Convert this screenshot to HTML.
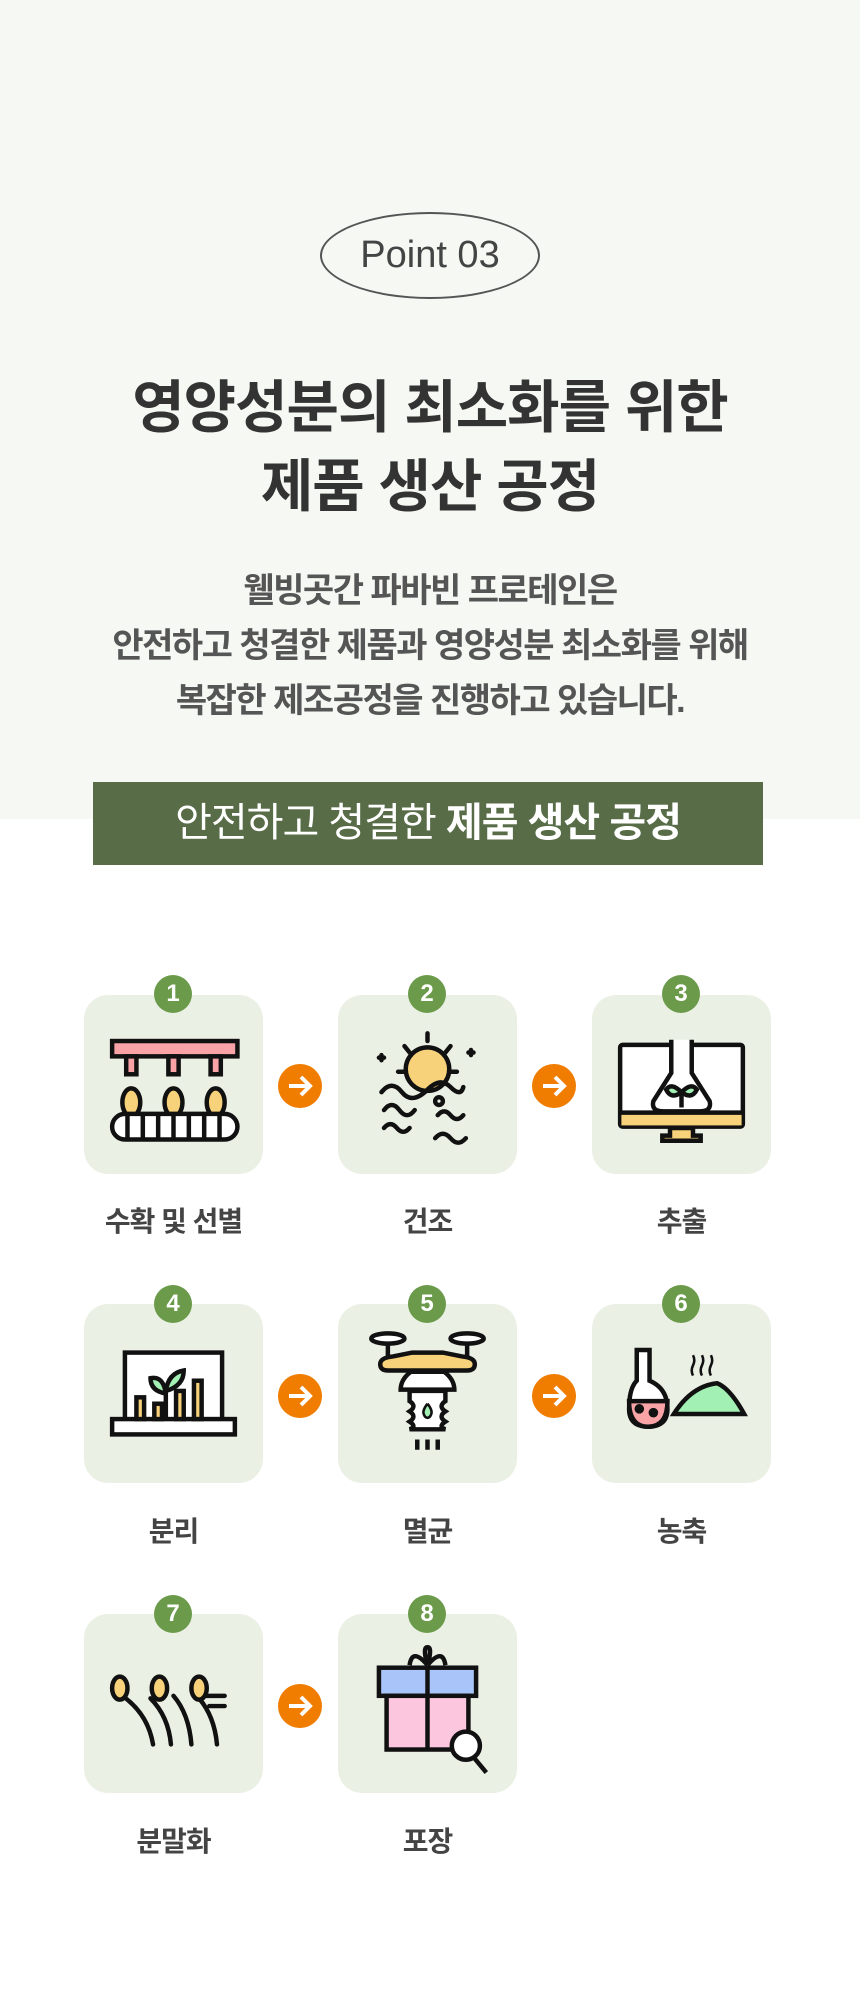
<!DOCTYPE html>
<html><head><meta charset="utf-8">
<style>
*{margin:0;padding:0;box-sizing:border-box}
body{width:860px;height:2002px;background:#fff;position:relative;font-family:"Liberation Sans","Noto Sans CJK KR",sans-serif;overflow:hidden}
.top{position:absolute;left:0;top:0;width:860px;height:819px;background:#f6f8f3}
.oval{position:absolute;left:320px;top:212px;width:220px;height:87px;border:2px solid #555;border-radius:50%;text-align:center;line-height:83px;font-size:38px;color:#444}
.t{position:absolute;left:0;width:860px;text-align:center;color:#333;font-weight:bold;font-size:57px;letter-spacing:-1px}
.p{position:absolute;left:0;width:860px;text-align:center;color:#555;font-size:34px;font-weight:bold;letter-spacing:-1.5px}
.bar{position:absolute;left:93px;top:782px;width:670px;height:83px;background:#586c48;color:#fff;text-align:center;line-height:83px;font-size:40px;letter-spacing:-1px}
.box{position:absolute;width:179px;height:179px;background:#ebf0e5;border-radius:24px}
.box svg{position:absolute;left:0;top:0;width:179px;height:179px}
.num{position:absolute;width:38px;height:38px;border-radius:50%;background:#6a9a4a;color:#fff;font-weight:bold;font-size:24px;text-align:center;line-height:38px}
.arr{position:absolute;width:44px;height:44px;border-radius:50%;background:#f07c00}
.arr svg{width:44px;height:44px}
.lb{position:absolute;width:179px;text-align:center;font-size:28px;font-weight:bold;color:#444;letter-spacing:-1px}
</style></head><body>
<div class="top"></div>
<div class="oval">Point 03</div>
<div class="t" style="top:362px">영양성분의 최소화를 위한</div>
<div class="t" style="top:441px">제품 생산 공정</div>
<div class="p" style="top:563px">웰빙곳간 파바빈 프로테인은</div>
<div class="p" style="top:618px">안전하고 청결한 제품과 영양성분 최소화를 위해</div>
<div class="p" style="top:673px">복잡한 제조공정을 진행하고 있습니다.</div>
<div class="bar">안전하고 청결한 <b>제품 생산 공정</b></div>

<!-- row1 -->
<div class="box" style="left:84px;top:995px"><svg viewBox="0 0 140 140" fill="none" stroke="#111" stroke-width="3.5">
<rect x="22" y="36" width="98" height="12" fill="#f9a3a6"/>
<rect x="33" y="48" width="8" height="14" fill="#f9a3a6"/><rect x="66" y="48" width="8" height="14" fill="#f9a3a6"/><rect x="99" y="48" width="8" height="14" fill="#f9a3a6"/>
<ellipse cx="37" cy="84" rx="7" ry="11" fill="#f8d27a"/><ellipse cx="70" cy="84" rx="7" ry="11" fill="#f8d27a"/><ellipse cx="103" cy="84" rx="7" ry="11" fill="#f8d27a"/>
<rect x="22" y="93" width="98" height="20" rx="10" fill="#fff"/>
<path d="M34 93v20M46 93v20M58 93v20M70 93v20M82 93v20M94 93v20M106 93v20"/></svg></div>
<div class="box" style="left:338px;top:995px"><svg viewBox="0 0 140 140" fill="none" stroke="#111" stroke-width="3.5" stroke-linecap="round">
<circle cx="70" cy="58" r="17" fill="#f8d27a"/><path d="M70 30v6M52 40l4 5M88 40l-4 5M47 60h6M87 60h6"/>
<path d="M34 76q8-10 16 0t20-2q10-10 18-2t10 0"/>
<path d="M36 90q6-8 12 0t12 0M36 104q5-6 10 0t10 0M78 94q5-6 10 0t10 0M76 112q6-7 12 0t12 0"/><circle cx="79" cy="83" r="3"/>
<path d="M32 49h4M34 47v4M102 45h4M104 43v4"/></svg></div>
<div class="box" style="left:592px;top:995px"><svg viewBox="0 0 140 140" fill="none" stroke="#111" stroke-width="3.5">
<rect x="22" y="39" width="96" height="64" rx="2" fill="#fff"/><rect x="23" y="92" width="94" height="10" fill="#f8d27a" stroke="none"/><path d="M22 92h96"/>
<path d="M61 104h18v6h6v4H55v-4h6z" fill="#f8d27a"/>
<path d="M62 35v26l-14 22q-2 8 8 8h28q10 0 8-8L78 61V35" fill="#fff"/>
<path d="M70 88V74M70 76q-8-8-12-2 4 8 12 2M70 76q8-8 12-2-4 8-12 2" fill="#a3f0b5"/></svg></div>
<div class="num" style="left:154px;top:975px">1</div>
<div class="num" style="left:408px;top:975px">2</div>
<div class="num" style="left:662px;top:975px">3</div>
<div class="arr" style="left:278px;top:1064px"><svg viewBox="0 0 44 44"><path d="M11 22h20M23 13l9 9-9 9" stroke="#fff" stroke-width="4" fill="none"/></svg></div>
<div class="arr" style="left:532px;top:1064px"><svg viewBox="0 0 44 44"><path d="M11 22h20M23 13l9 9-9 9" stroke="#fff" stroke-width="4" fill="none"/></svg></div>
<div class="lb" style="left:84px;top:1200px">수확 및 선별</div>
<div class="lb" style="left:338px;top:1200px">건조</div>
<div class="lb" style="left:592px;top:1200px">추출</div>

<!-- row2 -->
<div class="box" style="left:84px;top:1304px"><svg viewBox="0 0 140 140" fill="none" stroke="#111" stroke-width="3.5">
<rect x="32" y="38" width="76" height="62" fill="#fff"/><rect x="22" y="90" width="96" height="12" fill="#fff"/>
<rect x="41" y="73" width="6" height="17" fill="#f8d27a"/><rect x="55" y="78" width="6" height="12" fill="#f8d27a"/><rect x="72" y="68" width="6" height="22" fill="#f8d27a"/><rect x="86" y="60" width="6" height="30" fill="#f8d27a"/>
<path d="M64 90V66M64 70q-12-2-12-12 10-2 12 12M64 68q2-14 14-16 0 12-14 16" fill="#a3f0b5"/></svg></div>
<div class="box" style="left:338px;top:1304px"><svg viewBox="0 0 140 140" fill="none" stroke="#111" stroke-width="3.5">
<ellipse cx="39" cy="27" rx="13" ry="4" fill="#fff"/><ellipse cx="101" cy="27" rx="13" ry="4" fill="#fff"/><path d="M39 31v14M101 31v14"/>
<path d="M33 47q0-5 10-6l15-3h24l15 3q10 1 10 6t-6 5H39q-6 0-6-5z" fill="#f8d27a"/>
<path d="M57 53q-8 6-8 14h42q0-8-8-14z" fill="#fff"/>
<path d="M56 68h28v8q-6 4 0 8-6 4 0 8-6 4 0 6H56q6-2 0-6 6-4 0-8 6-4 0-8z" fill="#fff"/>
<path d="M70 78q-4 5-3 8t3 3 3-3-3-8" fill="#a3f0b5" stroke-width="2"/>
<path d="M62 106v8M70 106v8M78 106v8"/></svg></div>
<div class="box" style="left:592px;top:1304px"><svg viewBox="0 0 140 140" fill="none" stroke="#111" stroke-width="3.5">
<path d="M64 86q14-22 34-24q10 4 21 24H64z" fill="#a3f0b5"/>
<path d="M35 36h10v24q14 6 14 22 0 14-15 14-15 0-15-14 0-16 6-22z" fill="#fff"/>
<path d="M29 76h30q0 20-15 20T29 76z" fill="#f9a3a6"/><circle cx="37" cy="82" r="2" fill="#111"/><circle cx="48" cy="85" r="2" fill="#111"/>
<path d="M79 56q-2-4 0-8t0-8M86 56q-2-4 0-8t0-8M93 56q-2-4 0-8t0-8" stroke-width="2"/></svg></div>
<div class="num" style="left:154px;top:1285px">4</div>
<div class="num" style="left:408px;top:1285px">5</div>
<div class="num" style="left:662px;top:1285px">6</div>
<div class="arr" style="left:278px;top:1374px"><svg viewBox="0 0 44 44"><path d="M11 22h20M23 13l9 9-9 9" stroke="#fff" stroke-width="4" fill="none"/></svg></div>
<div class="arr" style="left:532px;top:1374px"><svg viewBox="0 0 44 44"><path d="M11 22h20M23 13l9 9-9 9" stroke="#fff" stroke-width="4" fill="none"/></svg></div>
<div class="lb" style="left:84px;top:1510px">분리</div>
<div class="lb" style="left:338px;top:1510px">멸균</div>
<div class="lb" style="left:592px;top:1510px">농축</div>

<!-- row3 -->
<div class="box" style="left:84px;top:1614px"><svg viewBox="0 0 140 140" fill="none" stroke="#111" stroke-width="3.5" stroke-linecap="round">
<path d="M30 64q20 14 24 38M52 66q14 14 16 36M70 64q12 14 14 38M90 66q12 14 14 36M90 64h20M98 72h12"/>
<ellipse cx="28" cy="58" rx="6" ry="9" fill="#f8d27a"/><ellipse cx="59" cy="58" rx="6" ry="9" fill="#f8d27a"/><ellipse cx="90" cy="58" rx="6" ry="9" fill="#f8d27a"/></svg></div>
<div class="box" style="left:338px;top:1614px"><svg viewBox="0 0 140 140" fill="none" stroke="#111" stroke-width="3.5">
<path d="M70 40q-12-14-14 0M70 40q12-14 14 0M70 40q-4-14 0-14 4 0 0 14"/>
<rect x="32" y="42" width="76" height="22" fill="#a9c4f8"/><rect x="38" y="64" width="64" height="42" fill="#fcc6df"/><path d="M70 42v64"/>
<circle cx="100" cy="103" r="11" fill="#fff"/><path d="M106 112l10 12"/></svg></div>
<div class="num" style="left:154px;top:1595px">7</div>
<div class="num" style="left:408px;top:1595px">8</div>
<div class="arr" style="left:278px;top:1684px"><svg viewBox="0 0 44 44"><path d="M11 22h20M23 13l9 9-9 9" stroke="#fff" stroke-width="4" fill="none"/></svg></div>
<div class="lb" style="left:84px;top:1820px">분말화</div>
<div class="lb" style="left:338px;top:1820px">포장</div>
</body></html>
